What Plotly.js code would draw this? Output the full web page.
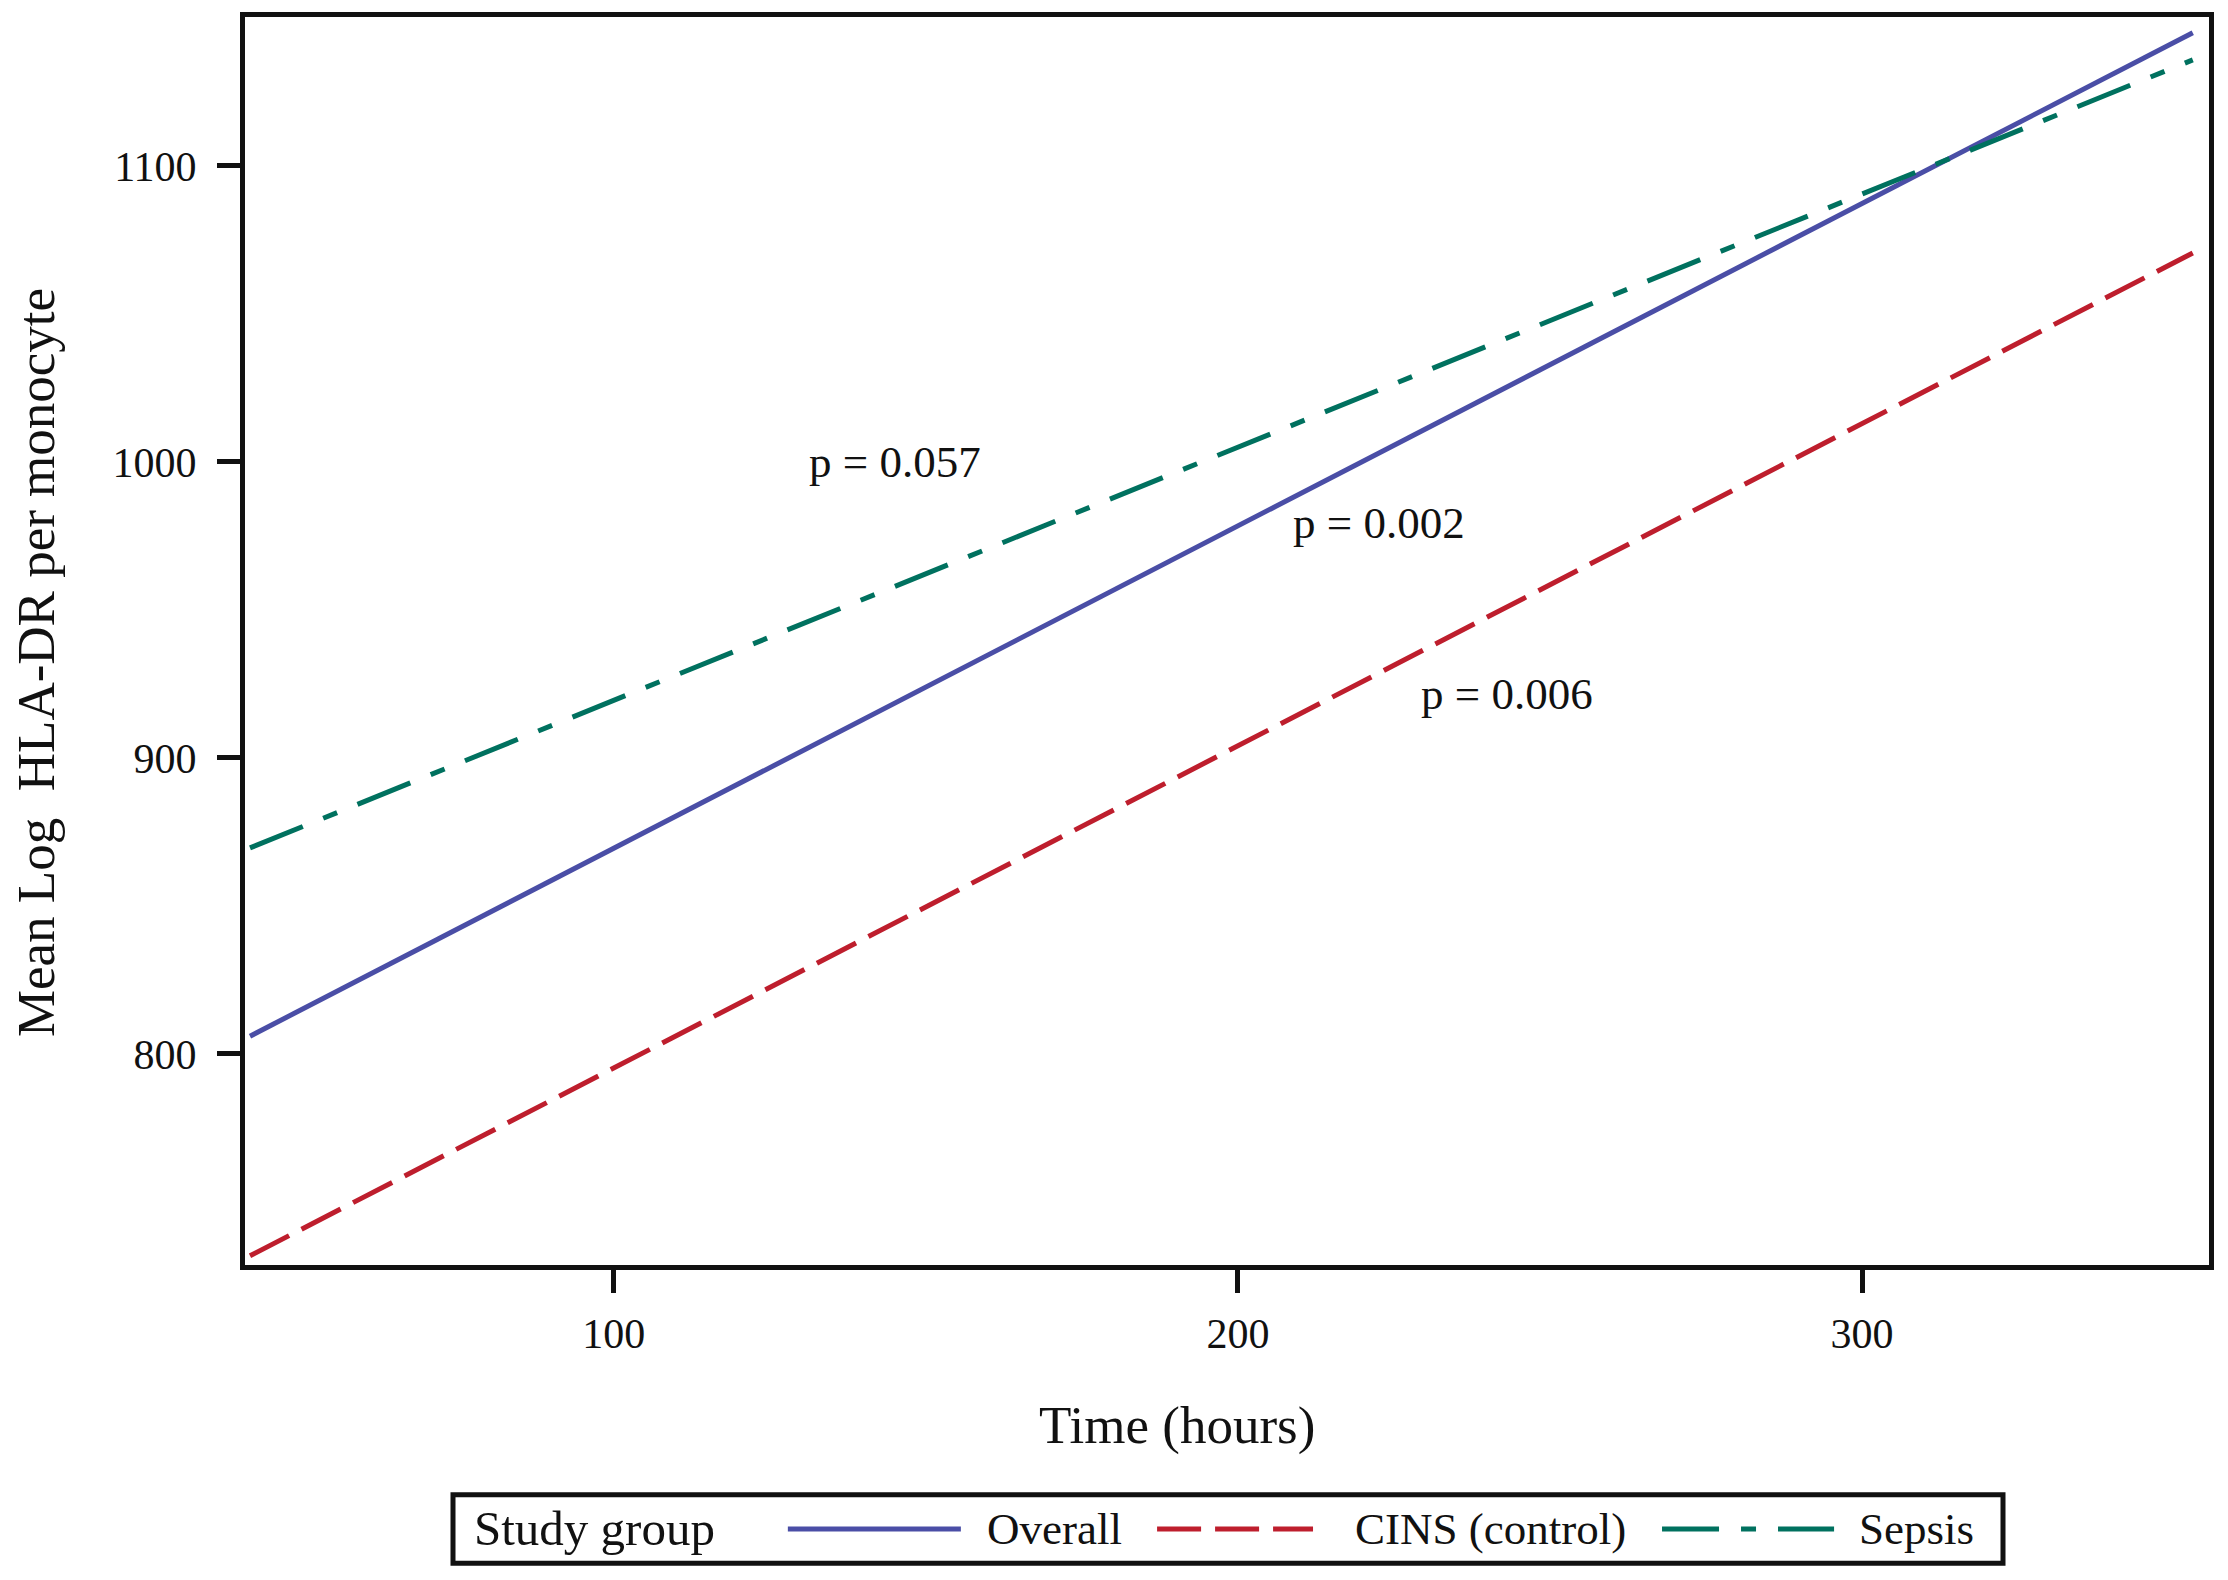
<!DOCTYPE html>
<html>
<head>
<meta charset="utf-8">
<script src="https://cdn.plot.ly/plotly-3.0.1.min.js"></script>
<style>
  body { margin: 0; background: #fff; }
  #chart { width: 2228px; height: 1580px; }
</style>
</head>
<body>
<div id="chart"></div>
<script>
// fitted lines (time in hours)
var timeHours = [41.7, 353];
var overallVals = [806, 1145];
var cinsVals = [731.8, 1070.6];
var sepsisVals = [869.6, 1135.8];

var groupNames = ['Overall', 'CINS (control)', 'Sepsis'];
var groupColors = ['#4a4ea6', '#be1e2d', '#00715f'];
var groupDash = ['solid', '44px,14px', '57px,22px,15px,22px'];

var pLabels = ['p = 0.057', 'p = 0.002', 'p = 0.006'];
var pX = [145, 222.6, 243.1];
var pY = [1000, 979.4, 921.6];

var FONT = 'Liberation Serif, Times New Roman, serif';
var CHART_DIV = document.getElementById('chart');

var groupVals = [overallVals, cinsVals, sepsisVals];
var traces = groupVals.map(function (vals, i) {
    return {
        x: timeHours,
        y: vals,
        name: groupNames[i],
        mode: 'lines',
        line: {color: groupColors[i], width: 5, dash: groupDash[i]},
        showlegend: false
    };
});

var annotations = pLabels.map(function (t, i) {
    return {
        x: pX[i], y: pY[i], xref: 'x', yref: 'y',
        text: t, showarrow: false,
        font: {family: FONT, size: 45, color: '#111'}
    };
});

// axis titles sit a little off-centre in the original, so they are placed by hand
annotations.push({
    x: 0.4745, y: -0.1285, xref: 'paper', yref: 'paper',
    xanchor: 'center', yanchor: 'middle', showarrow: false,
    text: 'Time (hours)',
    font: {family: FONT, size: 53, color: '#111'}
});
annotations.push({
    x: -0.1065, y: 0.483, xref: 'paper', yref: 'paper',
    xanchor: 'center', yanchor: 'middle', showarrow: false, textangle: -90,
    text: 'Mean Log\u00a0\u00a0HLA-DR per monocyte',
    font: {family: FONT, size: 53, color: '#111'}
});

// hand-made legend below the plot (paper coords), long line samples like the original
var legY = -0.2115;
var shapes = [{
    type: 'rect', xref: 'paper', yref: 'paper',
    x0: (453 - 245) / 1964, x1: (2003 - 245) / 1964, y0: -0.184, y1: -0.239,
    line: {color: '#111', width: 5}
}];
var legX0 = [0.2764, 0.4644, 0.7215];
var legX1 = [0.3645, 0.5438, 0.8091];
var legTxt = [0.3767, 0.5641, 0.8208];
annotations.push({
    x: (472 - 245) / 1964, y: legY, xref: 'paper', yref: 'paper',
    xanchor: 'left', yanchor: 'middle', text: 'Study group', showarrow: false,
    font: {family: FONT, size: 49, color: '#111'}
});
groupNames.forEach(function (n, i) {
    shapes.push({
        type: 'line', xref: 'paper', yref: 'paper',
        x0: legX0[i], x1: legX1[i], y0: legY, y1: legY,
        line: {color: groupColors[i], width: 5, dash: groupDash[i]}
    });
    annotations.push({
        x: legTxt[i], y: legY, xref: 'paper', yref: 'paper',
        xanchor: 'left', yanchor: 'middle', text: n, showarrow: false,
        font: {family: FONT, size: 45, color: '#111'}
    });
});

var layout = {
    width: 2228,
    height: 1580,
    margin: {l: 245, r: 19, t: 17, b: 315},
    paper_bgcolor: '#fff',
    plot_bgcolor: '#fff',
    font: {family: FONT, color: '#111'},
    showlegend: false,
    xaxis: {
        range: [40.9, 355.6],
        tickvals: [100, 200, 300],
        ticks: 'outside', ticklen: 23, tickwidth: 5, tickcolor: '#111',
        showline: true, linewidth: 5, linecolor: '#111', mirror: true,
        showgrid: false, zeroline: false,
        tickfont: {family: FONT, size: 42, color: '#111'},
        ticklabelstandoff: 5
    },
    yaxis: {
        range: [728.7, 1150.3],
        tickvals: [800, 900, 1000, 1100],
        ticks: 'outside', ticklen: 23, tickwidth: 5, tickcolor: '#111',
        showline: true, linewidth: 5, linecolor: '#111', mirror: true,
        showgrid: false, zeroline: false,
        tickfont: {family: FONT, size: 42, color: '#111'},
        ticklabelstandoff: 12
    },
    annotations: annotations,
    shapes: shapes
};

Plotly.newPlot(CHART_DIV, traces, layout, {staticPlot: true});
</script>
</body>
</html>
